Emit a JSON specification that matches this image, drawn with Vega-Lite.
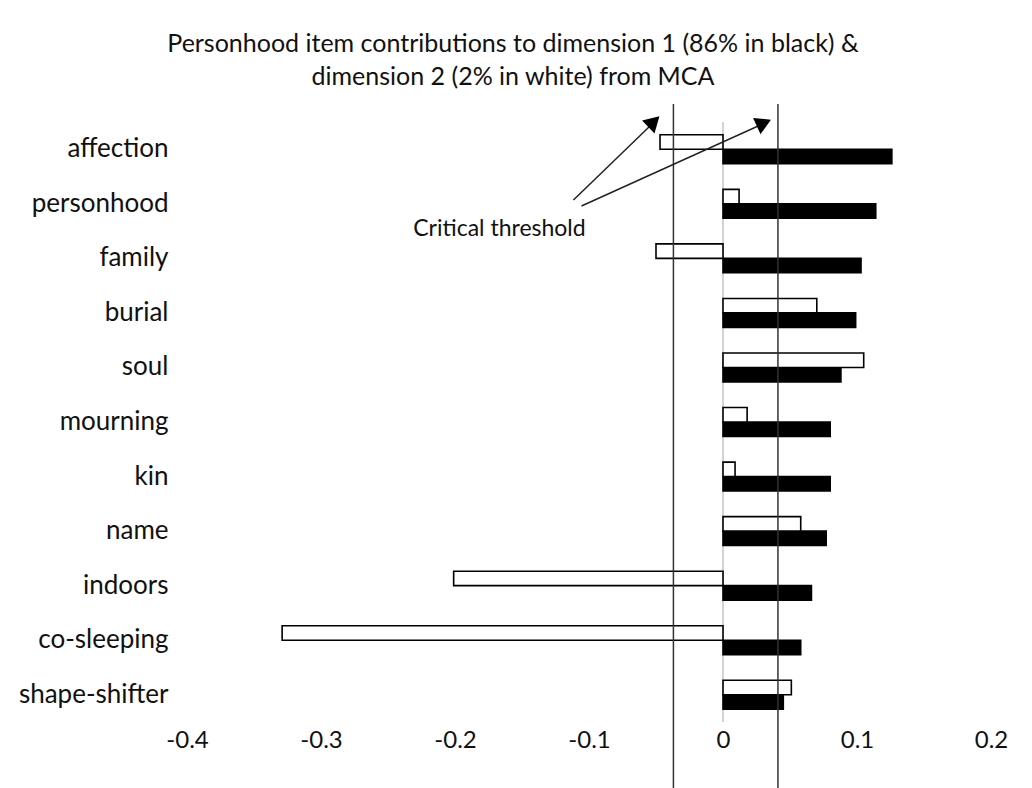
{
  "$schema": "https://vega.github.io/schema/vega-lite/v6.json",
  "width": 804,
  "height": 600,
  "autosize": {"type": "none"},
  "padding": {"left": 187, "top": 122, "right": 41, "bottom": 66},
  "background": "white",
  "config": {
    "view": {"stroke": null},
    "font": "Lato",
    "axis": {"labelFont": "Lato", "labelColor": "#111111"}
  },
  "title": {
    "text": ["Personhood item contributions to dimension 1 (86% in black) &", "dimension 2 (2% in white) from MCA"],
    "font": "Lato",
    "fontSize": 25,
    "fontWeight": "normal",
    "color": "#111111",
    "lineHeight": 33,
    "anchor": "middle",
    "dx": -76,
    "offset": 13
  },
  "datasets": {
    "contrib": [
      {"item": "affection", "dimension": "Dimension 1", "value": 0.126},
      {"item": "affection", "dimension": "Dimension 2", "value": -0.047},
      {"item": "personhood", "dimension": "Dimension 1", "value": 0.114},
      {"item": "personhood", "dimension": "Dimension 2", "value": 0.012},
      {"item": "family", "dimension": "Dimension 1", "value": 0.103},
      {"item": "family", "dimension": "Dimension 2", "value": -0.050},
      {"item": "burial", "dimension": "Dimension 1", "value": 0.099},
      {"item": "burial", "dimension": "Dimension 2", "value": 0.070},
      {"item": "soul", "dimension": "Dimension 1", "value": 0.088},
      {"item": "soul", "dimension": "Dimension 2", "value": 0.105},
      {"item": "mourning", "dimension": "Dimension 1", "value": 0.080},
      {"item": "mourning", "dimension": "Dimension 2", "value": 0.018},
      {"item": "kin", "dimension": "Dimension 1", "value": 0.080},
      {"item": "kin", "dimension": "Dimension 2", "value": 0.009},
      {"item": "name", "dimension": "Dimension 1", "value": 0.077},
      {"item": "name", "dimension": "Dimension 2", "value": 0.058},
      {"item": "indoors", "dimension": "Dimension 1", "value": 0.066},
      {"item": "indoors", "dimension": "Dimension 2", "value": -0.201},
      {"item": "co-sleeping", "dimension": "Dimension 1", "value": 0.058},
      {"item": "co-sleeping", "dimension": "Dimension 2", "value": -0.329},
      {"item": "shape-shifter", "dimension": "Dimension 1", "value": 0.045},
      {"item": "shape-shifter", "dimension": "Dimension 2", "value": 0.051}
    ],
    "thresholds": [
      {"label": "Critical threshold (negative)", "threshold": -0.037},
      {"label": "Critical threshold (positive)", "threshold": 0.041}
    ],
    "one": [{"annotation": "Critical threshold"}]
  },
  "resolve": {"scale": {"y": "independent"}},
  "layer": [
    {
      "data": {"name": "one"},
      "mark": {"type": "rule", "color": "#c4c4c4", "strokeWidth": 1.5},
      "encoding": {
        "x": {"datum": 0, "type": "quantitative", "scale": {"domain": [-0.4, 0.2], "nice": false, "zero": false}},
        "y": {"datum": 0.0, "type": "quantitative", "scale": {"domain": [0, 11], "reverse": true, "nice": false, "zero": false}, "axis": null},
        "y2": {"datum": 11.0}
      }
    },
    {
      "data": {"name": "contrib"},
      "mark": {"type": "bar", "stroke": "#000000", "strokeWidth": 1.6},
      "encoding": {
        "y": {
          "field": "item",
          "type": "nominal",
          "sort": null,
          "scale": {"paddingInner": 0.47, "paddingOuter": 0.235},
          "axis": {"title": null, "domain": false, "ticks": false, "labelPadding": 19, "labelFontSize": 26, "labelColor": "#111111"}
        },
        "yOffset": {
          "field": "dimension",
          "type": "nominal",
          "sort": ["Dimension 2", "Dimension 1"],
          "scale": {"paddingInner": 0, "paddingOuter": 0}
        },
        "x": {
          "field": "value",
          "type": "quantitative",
          "stack": null,
          "scale": {"domain": [-0.4, 0.2], "nice": false, "zero": false},
          "axis": {
            "title": null,
            "domain": false,
            "ticks": false,
            "grid": false,
            "labelFlush": false,
            "values": [-0.4, -0.3, -0.2, -0.1, 0, 0.1, 0.2],
            "labelExpr": "toString(round(datum.value * 10) / 10)",
            "labelFontSize": 24,
            "labelPadding": 6,
            "labelColor": "#111111"
          }
        },
        "color": {
          "field": "dimension",
          "type": "nominal",
          "scale": {"domain": ["Dimension 1", "Dimension 2"], "range": ["#000000", "#ffffff"]},
          "legend": null
        }
      }
    },
    {
      "data": {"name": "thresholds"},
      "mark": {"type": "rule", "color": "#333333", "strokeWidth": 1.5},
      "encoding": {
        "x": {"field": "threshold", "type": "quantitative"},
        "y": {"datum": -0.33, "type": "quantitative", "scale": {"domain": [0, 11], "reverse": true, "nice": false, "zero": false}, "axis": null},
        "y2": {"datum": 12.3}
      }
    },
    {
      "data": {"name": "one"},
      "mark": {"type": "rule", "color": "#222222", "strokeWidth": 1.5},
      "encoding": {
        "x": {"datum": -0.1116, "type": "quantitative"},
        "x2": {"datum": -0.0506},
        "y": {"datum": 1.431, "type": "quantitative", "scale": {"domain": [0, 11], "reverse": true, "nice": false, "zero": false}, "axis": null},
        "y2": {"datum": -0.018}
      }
    },
    {
      "data": {"name": "one"},
      "mark": {"type": "rule", "color": "#222222", "strokeWidth": 1.5},
      "encoding": {
        "x": {"datum": -0.1056, "type": "quantitative"},
        "x2": {"datum": 0.0321},
        "y": {"datum": 1.541, "type": "quantitative", "scale": {"domain": [0, 11], "reverse": true, "nice": false, "zero": false}, "axis": null},
        "y2": {"datum": 0.009}
      }
    },
    {
      "data": {"name": "one"},
      "mark": {"type": "point", "shape": "triangle-up", "filled": true, "color": "#000000", "opacity": 1, "size": 320, "angle": 46},
      "encoding": {
        "x": {"datum": -0.0516, "type": "quantitative"},
        "y": {"datum": -0.008, "type": "quantitative", "scale": {"domain": [0, 11], "reverse": true, "nice": false, "zero": false}, "axis": null}
      }
    },
    {
      "data": {"name": "one"},
      "mark": {"type": "point", "shape": "triangle-up", "filled": true, "color": "#000000", "opacity": 1, "size": 320, "angle": 65.6},
      "encoding": {
        "x": {"datum": 0.0305, "type": "quantitative"},
        "y": {"datum": 0.016, "type": "quantitative", "scale": {"domain": [0, 11], "reverse": true, "nice": false, "zero": false}, "axis": null}
      }
    },
    {
      "data": {"name": "one"},
      "mark": {"type": "text", "font": "Lato", "fontSize": 23, "color": "#111111", "align": "center", "baseline": "middle"},
      "encoding": {
        "text": {"field": "annotation"},
        "x": {"datum": -0.1668, "type": "quantitative"},
        "y": {"datum": 1.96, "type": "quantitative", "scale": {"domain": [0, 11], "reverse": true, "nice": false, "zero": false}, "axis": null}
      }
    }
  ]
}
